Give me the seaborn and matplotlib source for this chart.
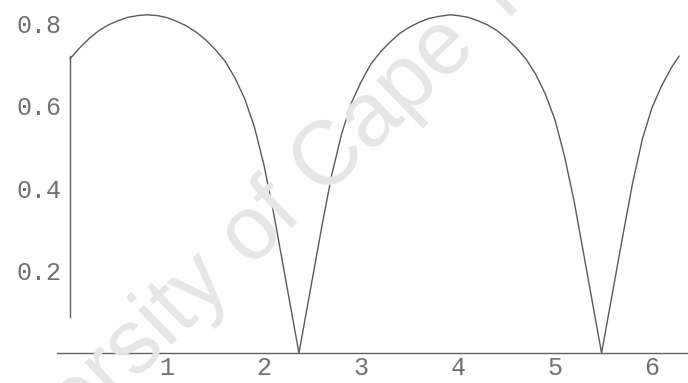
import matplotlib
matplotlib.use("Agg")
import matplotlib.pyplot as plt
import seaborn as sns

# curve samples (x in radians, amplitude)
x_vals = [0.00, 0.10, 0.20, 0.30, 0.40, 0.50, 0.60, 0.70, 0.79, 0.90, 1.00, 1.10,
          1.20, 1.30, 1.40, 1.50, 1.60, 1.70, 1.80, 1.90, 2.00, 2.10, 2.20, 2.30,
          2.36,
          2.40, 2.50, 2.60, 2.70, 2.80, 2.90, 3.00, 3.10, 3.20, 3.30, 3.40, 3.50,
          3.60, 3.70, 3.80, 3.92, 4.00, 4.10, 4.20, 4.30, 4.40, 4.50, 4.60, 4.70,
          4.80, 4.90, 5.00, 5.10, 5.20, 5.30, 5.40, 5.48,
          5.50, 5.60, 5.70, 5.80, 5.90, 6.00, 6.10, 6.20, 6.28]
y_vals = [0.713, 0.740, 0.763, 0.782, 0.796, 0.806, 0.814, 0.818, 0.820, 0.818,
          0.813, 0.804, 0.793, 0.778, 0.759, 0.735, 0.707, 0.667, 0.617, 0.549,
          0.455, 0.338, 0.208, 0.078, 0.000,
          0.052, 0.182, 0.312, 0.434, 0.531, 0.606, 0.657, 0.700, 0.730, 0.754,
          0.775, 0.790, 0.802, 0.811, 0.816, 0.820, 0.818, 0.814, 0.806, 0.796,
          0.782, 0.763, 0.740, 0.713, 0.676, 0.628, 0.565, 0.475, 0.364, 0.234,
          0.104, 0.000,
          0.026, 0.156, 0.286, 0.412, 0.518, 0.595, 0.648, 0.692, 0.720]

x_ticks = [1, 2, 3, 4, 5, 6]
y_ticks = [0.2, 0.4, 0.6, 0.8]
y_tick_labels = ["0.2", "0.4", "0.6", "0.8"]

sns.set_style("white")

fig = plt.figure(figsize=(6.88, 3.83), dpi=100)
ax = fig.add_axes([0, 0, 1, 1])

# background watermark
fig.text(0.408, 0.460, "University of Cape Town", rotation=44,
         rotation_mode="anchor", ha="center", va="center",
         fontsize=65, color="#e6e6e6", family="Liberation Sans", zorder=0)
ax.set_facecolor("none")

sns.lineplot(x=x_vals, y=y_vals, ax=ax, color="#5a5a5a", linewidth=1.0,
             estimator=None)

ax.set_xlim(-0.722, 6.371)
ax.set_ylim(-0.0727, 0.8558)

for side in ("top", "right"):
    ax.spines[side].set_visible(False)
ax.spines["left"].set_position(("data", 0))
ax.spines["bottom"].set_position(("data", 0))
ax.spines["left"].set_bounds(0.087, 0.72)
ax.spines["bottom"].set_bounds(-0.134, 6.371)
for side in ("left", "bottom"):
    ax.spines[side].set_color("#606060")
    ax.spines[side].set_linewidth(1.0)

ax.set_xticks(x_ticks)
ax.set_xticklabels([str(t) for t in x_ticks])
ax.set_yticks(y_ticks)
ax.set_yticklabels(y_tick_labels)
ax.set_xticks([i * 0.2 for i in range(1, 32) if i % 5], minor=True)
ax.set_yticks([i * 0.05 for i in range(1, 17) if i % 4], minor=True)

ax.tick_params(axis="both", which="major", direction="in", length=4, width=0.8,
               color="#707070", labelcolor="#707070")
ax.tick_params(axis="both", which="minor", direction="in", length=2, width=0.6,
               color="#909090")
ax.tick_params(axis="y", which="major", pad=6)
ax.tick_params(axis="x", which="major", pad=2)
for lab in ax.get_xticklabels() + ax.get_yticklabels():
    lab.set_family("Liberation Mono")
    lab.set_fontsize(18)

ax.set_xlabel("")
ax.set_ylabel("")

fig.savefig("out.png", dpi=100)
